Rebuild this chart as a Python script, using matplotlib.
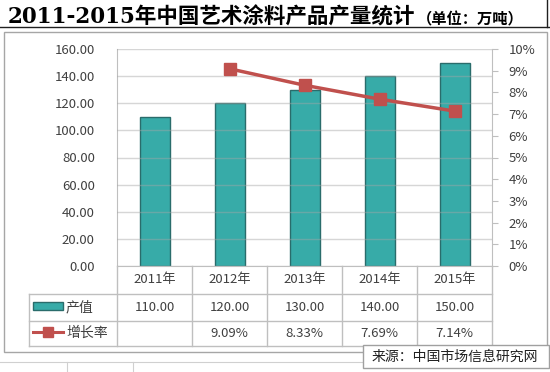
import matplotlib
matplotlib.use("Agg")
import matplotlib.pyplot as plt
from matplotlib.lines import Line2D
from matplotlib.patches import Rectangle
from matplotlib.ticker import FuncFormatter, MultipleLocator
import numpy as np

plt.rcParams['font.family'] = ['Noto Sans CJK SC', 'DejaVu Sans']

# ---- data ----
years = ['2011年', '2012年', '2013年', '2014年', '2015年']
output = [110.00, 120.00, 130.00, 140.00, 150.00]
growth = [None, 9.09, 8.33, 7.69, 7.14]  # percent
series_names = ['产值', '增长率']
title_main = '2011-2015年中国艺术涂料产品产量统计'
title_unit = '（单位：万吨）'
source_text = '来源：中国市场信息研究网'

W, H = 550, 372
fig = plt.figure(figsize=(W / 100, H / 100), dpi=100)
fig.patch.set_facecolor('white')


def fx(x):
    return x / W


def fy(y):
    return 1 - y / H


BAR = '#37ABA8'
BAR_EDGE = '#2A6C6B'
RED = '#C0504D'
TXT = '#404040'
GRID = '#BFBFBF'
FRAME = '#A6A6A6'

# ---- spreadsheet-ish background lines ----
fig.add_artist(Line2D([0, 1], [fy(27), fy(27)], transform=fig.transFigure, color='#202020', lw=1))
fig.add_artist(Line2D([fx(547), fx(547)], [fy(0), fy(27)], transform=fig.transFigure, color='#202020', lw=1))
fig.add_artist(Line2D([0, fx(363)], [fy(362), fy(362)], transform=fig.transFigure, color='#D0D0D0', lw=0.8))
for xv in (67, 133):
    fig.add_artist(Line2D([fx(xv), fx(xv)], [fy(362), fy(372)], transform=fig.transFigure, color='#D0D0D0', lw=0.8))

# chart frame
fig.add_artist(Rectangle((fx(4), fy(352)), fx(547) - fx(4), fy(32) - fy(352),
                         transform=fig.transFigure, fill=False, edgecolor=FRAME, lw=1))

# ---- title ----
t1 = fig.text(fx(8), fy(24), title_main, fontsize=15.5, fontweight='bold',
              family=['DejaVu Serif', 'Noto Sans CJK SC'], color='black', va='baseline', ha='left')
fig.canvas.draw()
bb = t1.get_window_extent()
fig.text(bb.x1 / W + 0.002, fy(24), title_unit, fontsize=11, fontweight='bold',
         color='black', va='baseline', ha='left')

# ---- axes ----
ax = fig.add_axes([fx(117), fy(266), fx(492) - fx(117), (266 - 49) / H])
x = np.arange(len(years))
ax.bar(x, output, width=0.4, color=BAR, edgecolor=BAR_EDGE, linewidth=1, zorder=2)
ax.set_xlim(-0.5, len(years) - 0.5)
ax.set_ylim(0, 160)
ax.yaxis.set_major_locator(MultipleLocator(20))
ax.yaxis.set_major_formatter(FuncFormatter(lambda v, p: f'{v:.2f}'))
ax.yaxis.grid(True, color='#A6A6A6', alpha=0.45, lw=1, zorder=3)
ax.set_axisbelow(False)
ax.set_xticks([])
ax.tick_params(axis='y', length=0, pad=16, labelsize=9.5, labelcolor=TXT)
for s in ('top', 'right'):
    ax.spines[s].set_visible(False)
ax.spines['left'].set_color(GRID)
ax.spines['bottom'].set_color(GRID)

ax2 = ax.twinx()
gx = [i for i, g in enumerate(growth) if g is not None]
gy = [g for g in growth if g is not None]
ax2.plot(gx, gy, color=RED, lw=2.5, marker='s', ms=8, zorder=4)
ax2.set_ylim(0, 10)
ax2.yaxis.set_major_locator(MultipleLocator(1))
ax2.yaxis.set_major_formatter(FuncFormatter(lambda v, p: f'{v:.0f}%'))
ax2.tick_params(axis='y', length=4, color=GRID, pad=8, labelsize=9.5, labelcolor=TXT)
for s in ('top', 'left', 'bottom'):
    ax2.spines[s].set_visible(False)
ax2.spines['right'].set_color(GRID)
ax2.set_xlim(-0.5, len(years) - 0.5)

# ---- data table ----
tr = ax.get_xaxis_transform()


def ay(ypix):
    return (266 - ypix) / (266 - 49)


row_y = [266, 294, 321, 346]
for yv in row_y[1:]:
    fig.add_artist(Line2D([fx(29), fx(492)], [fy(yv), fy(yv)], transform=fig.transFigure, color=GRID, lw=1))
for b in np.arange(len(years) + 1) - 0.5:
    ax.add_artist(Line2D([b, b], [ay(266), ay(346)], transform=tr, color=GRID, lw=1, clip_on=False))
fig.add_artist(Line2D([fx(29), fx(29)], [fy(294), fy(346)], transform=fig.transFigure, color=GRID, lw=1))

for i, yr in enumerate(years):
    ax.text(i, ay(280), yr, transform=tr, ha='center', va='center', fontsize=9.5, color=TXT, clip_on=False)
    ax.text(i, ay(307.5), f'{output[i]:.2f}', transform=tr, ha='center', va='center', fontsize=9.5,
            color=TXT, clip_on=False)
    if growth[i] is not None:
        ax.text(i, ay(333.5), f'{growth[i]:.2f}%', transform=tr, ha='center', va='center', fontsize=9.5,
                color=TXT, clip_on=False)

# legend keys inside table
fig.add_artist(Rectangle((fx(33), fy(310)), fx(63) - fx(33), fy(302) - fy(310), transform=fig.transFigure,
                         facecolor=BAR, edgecolor=BAR_EDGE, lw=1))
fig.text(fx(66), fy(307.5), series_names[0], fontsize=10, color=TXT, va='center', ha='left')
fig.add_artist(Line2D([fx(33), fx(63)], [fy(332), fy(332)], transform=fig.transFigure, color=RED, lw=2.2))
fig.add_artist(Line2D([fx(48)], [fy(332)], transform=fig.transFigure, color=RED, marker='s', ms=7, lw=0))
fig.text(fx(66), fy(333), series_names[1], fontsize=10, color=TXT, va='center', ha='left')

# ---- source box ----
fig.add_artist(Rectangle((fx(363), fy(368)), fx(549) - fx(363), fy(345) - fy(368), transform=fig.transFigure,
                         facecolor='white', edgecolor='#A0A0A0', lw=1, zorder=10))
fig.text(fx(372), fy(356.5), source_text, fontsize=10, color='#202020', va='center', ha='left', zorder=11)

fig.savefig('out.png', dpi=100, facecolor='white')
